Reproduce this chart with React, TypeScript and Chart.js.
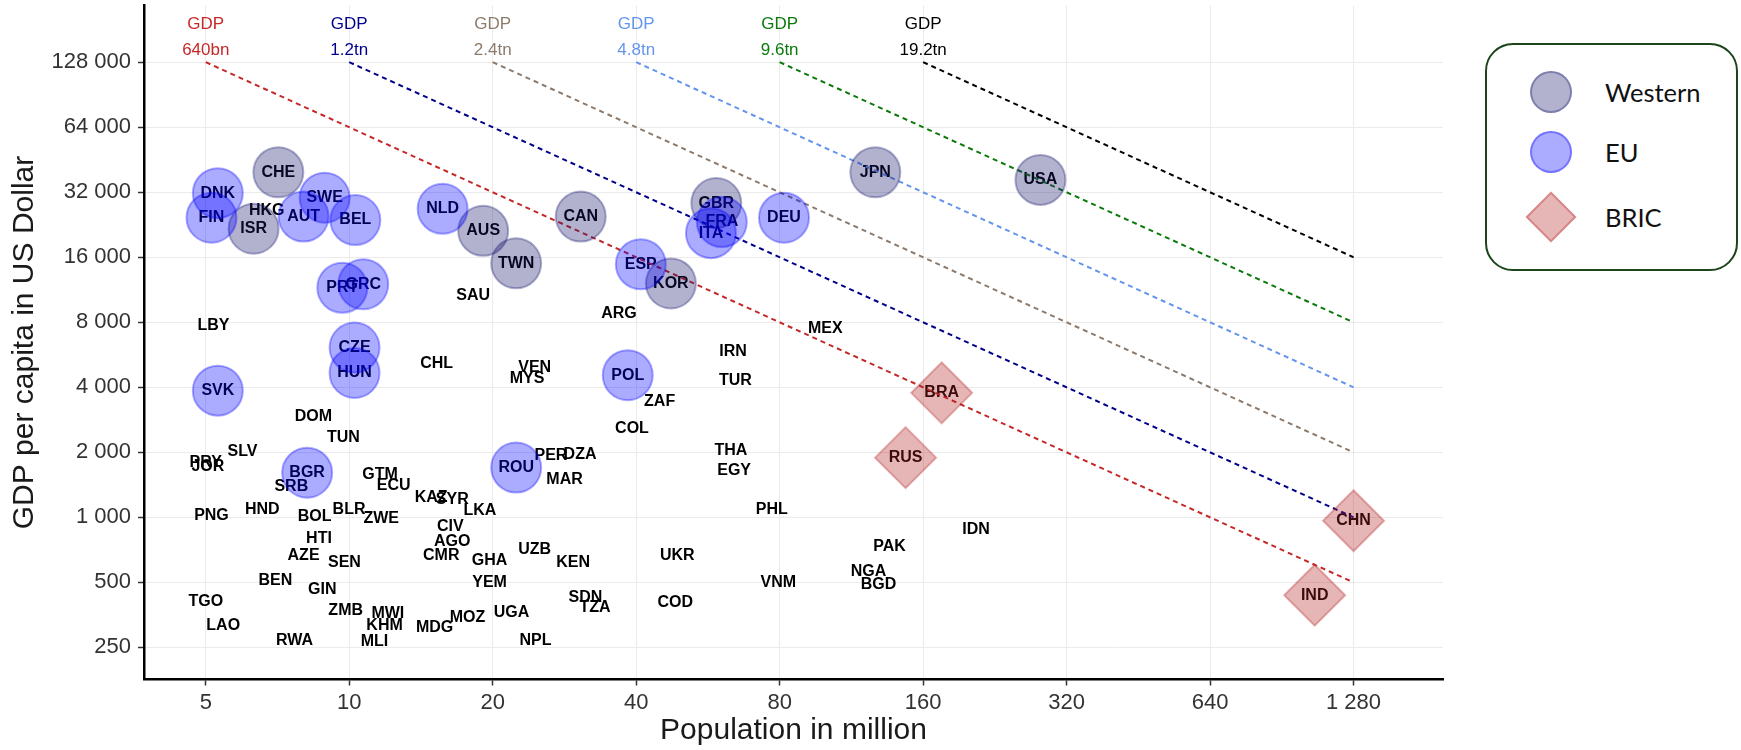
import React, { useEffect, useRef } from 'react';
import { Chart, registerables } from 'chart.js';
Chart.register(...registerables);

// ---------- axis ticks ----------
const xTicks = [5, 10, 20, 40, 80, 160, 320, 640, 1280];
const yTicks = [250, 500, 1000, 2000, 4000, 8000, 16000, 32000, 64000, 128000];

// ---------- GDP iso-lines ----------
const gdpLineStartPop = [5, 10, 20, 40, 80, 160];
const gdpLineTopGdp = 128000;
const gdpLineEndPop = 1280;
const gdpLineEndGdp = [500, 1000, 2000, 4000, 8000, 16000];
const gdpLineLabels = ['640bn', '1.2tn', '2.4tn', '4.8tn', '9.6tn', '19.2tn'];
const gdpLineColors = ['#c62828', '#00008b', '#8c7b6c', '#6495ed', '#0b7a0b', '#000000'];

// ---------- Western ----------
const westernCodes = ['CHE', 'ISR', 'AUS', 'TWN', 'CAN', 'KOR', 'GBR', 'JPN', 'USA'];
const westernPop = [7.1, 6.3, 19.1, 22.4, 30.6, 47.3, 58.9, 127, 282];
const westernGdp = [39600, 21700, 21200, 15000, 24700, 12100, 28500, 39600, 36500];

// ---------- EU ----------
const euCodes = ['DNK', 'FIN', 'SWE', 'AUT', 'BEL', 'PRT', 'GRC', 'CZE', 'HUN', 'SVK', 'NLD', 'ESP', 'POL', 'ROU', 'BGR', 'FRA', 'ITA', 'DEU'];
const euPop = [5.3, 5.14, 8.88, 8.02, 10.3, 9.67, 10.7, 10.26, 10.26, 5.3, 15.7, 40.9, 38.4, 22.4, 8.16, 60.5, 57.4, 81.7];
const euGdp = [31700, 24400, 30200, 24700, 23800, 11560, 12000, 6110, 4660, 3860, 26830, 14850, 4550, 1700, 1610, 23290, 20690, 24400];

// ---------- BRIC ----------
const bricCodes = ['BRA', 'RUS', 'CHN', 'IND'];
const bricPop = [175, 147, 1280, 1061];
const bricGdp = [3770, 1890, 964, 436];

// ---------- other countries (text only) ----------
const otherCodes = [
  'LBY', 'HKG', 'SAU', 'ARG', 'MEX', 'IRN', 'CHL', 'VEN', 'MYS', 'TUR',
  'ZAF', 'DOM', 'COL', 'TUN', 'SLV', 'PRY', 'JOR', 'THA', 'EGY', 'PER',
  'DZA', 'MAR', 'GTM', 'ECU', 'SRB', 'KAZ', 'SYR', 'LKA', 'PHL', 'IDN',
  'PNG', 'HND', 'BOL', 'BLR', 'ZWE', 'CIV', 'AGO', 'HTI', 'AZE', 'SEN',
  'CMR', 'GHA', 'UZB', 'KEN', 'UKR', 'PAK', 'NGA', 'BGD', 'VNM', 'BEN',
  'GIN', 'YEM', 'TGO', 'SDN', 'TZA', 'COD', 'ZMB', 'MWI', 'UGA', 'MOZ',
  'KHM', 'MDG', 'LAO', 'RWA', 'MLI', 'NPL',
];
const otherPop = [
  5.19, 6.71, 18.2, 36.8, 99.7, 63.9, 15.25, 24.5, 23.6, 64.6,
  44.8, 8.41, 39.2, 9.72, 5.97, 5.0, 5.05, 63.2, 64.2, 26.5,
  30.5, 28.3, 11.6, 12.4, 7.56, 14.85, 16.45, 18.8, 77, 206.7,
  5.14, 6.57, 8.46, 9.99, 11.67, 16.3, 16.45, 8.64, 8.02, 9.77,
  15.6, 19.7, 24.5, 29.5, 48.8, 136, 122.9, 129, 79.5, 7.0,
  8.78, 19.7, 5.0, 31.3, 32.8, 48.3, 9.83, 12.05, 21.9, 17.7,
  11.86, 15.1, 5.44, 7.68, 11.3, 24.6,
];
const otherGdp = [
  7730, 26200, 10660, 8730, 7470, 5830, 5170, 4930, 4380, 4280,
  3430, 2940, 2570, 2340, 2010, 1800, 1720, 2030, 1640, 1940,
  1960, 1490, 1570, 1410, 1390, 1240, 1210, 1070, 1085, 878,
  1024, 1085, 1010, 1085, 987, 909, 770, 797, 668, 616,
  668, 630, 709, 616, 668, 735, 560, 486, 497, 509,
  463, 497, 407, 426, 383, 401, 370, 357, 361, 344,
  317, 310, 317, 268, 265, 268,
];

// ---------- styles ----------
const FONT = '"Liberation Sans", Arial, Helvetica, sans-serif';
const WESTERN_COLOR = 'rgba(20,20,110,0.33)';
const EU_COLOR = 'rgba(0,0,255,0.33)';
const BRIC_COLOR = 'rgba(178,34,34,0.33)';

const fmt = (v: number) => String(v).replace(/\B(?=(\d{3})+(?!\d))/g, ' ');

const toPts = (pop: number[], gdp: number[]) => pop.map((p, i) => ({ x: p, y: gdp[i] }));

const labelPlugin = {
  id: 'countryLabels',
  beforeDatasetsDraw(chart: any) {
    const { ctx, scales } = chart;
    const xs = scales.x;
    const ys = scales.y;
    ctx.save();
    ctx.textAlign = 'center';
    ctx.textBaseline = 'middle';
    ctx.fillStyle = '#000';
    ctx.font = `bold 16px ${FONT}`;
    const groups: [string[], number[], number[]][] = [
      [otherCodes, otherPop, otherGdp],
      [westernCodes, westernPop, westernGdp],
      [euCodes, euPop, euGdp],
      [bricCodes, bricPop, bricGdp],
    ];
    groups.forEach(([codes, pop, gdp]) => {
      codes.forEach((c, i) => {
        ctx.fillText(c, xs.getPixelForValue(pop[i]), ys.getPixelForValue(gdp[i]));
      });
    });
    ctx.font = `17px ${FONT}`;
    gdpLineStartPop.forEach((s, i) => {
      const px = xs.getPixelForValue(s);
      const py = ys.getPixelForValue(gdpLineTopGdp);
      ctx.fillStyle = gdpLineColors[i];
      ctx.fillText('GDP', px, py - 38);
      ctx.fillText(gdpLineLabels[i], px, py - 12);
    });
    ctx.restore();
  },
};

export default function App() {
  const ref = useRef<HTMLCanvasElement | null>(null);

  useEffect(() => {
    if (!ref.current) return;
    const lineSets = gdpLineStartPop.map((s, i) => ({
      label: 'GDP ' + gdpLineLabels[i],
      data: [
        { x: s, y: gdpLineTopGdp },
        { x: gdpLineEndPop, y: gdpLineEndGdp[i] },
      ],
      showLine: true,
      borderColor: gdpLineColors[i],
      borderWidth: 2,
      borderDash: [5, 4],
      pointRadius: 0,
      fill: false,
      order: 10,
    }));
    const chart = new Chart(ref.current, {
      type: 'scatter',
      data: {
        datasets: [
          ...lineSets,
          {
            label: 'Western',
            data: toPts(westernPop, westernGdp),
            pointStyle: 'circle',
            pointRadius: 25,
            backgroundColor: WESTERN_COLOR,
            borderColor: WESTERN_COLOR,
            borderWidth: 2,
            order: 2,
          },
          {
            label: 'EU',
            data: toPts(euPop, euGdp),
            pointStyle: 'circle',
            pointRadius: 25,
            backgroundColor: EU_COLOR,
            borderColor: EU_COLOR,
            borderWidth: 2,
            order: 1,
          },
          {
            label: 'BRIC',
            data: toPts(bricPop, bricGdp),
            pointStyle: 'rectRot',
            pointRadius: 30.5,
            backgroundColor: BRIC_COLOR,
            borderColor: BRIC_COLOR,
            borderWidth: 2,
            order: 0,
          },
        ] as any,
      },
      options: {
        animation: false,
        responsive: false,
        events: [],
        layout: { autoPadding: false, padding: { left: 0, right: 298, top: 5.5, bottom: 0 } },
        plugins: { legend: { display: false }, tooltip: { enabled: false } },
        scales: {
          x: {
            type: 'logarithmic',
            min: 3.71,
            max: 1972,
            afterBuildTicks: (s: any) => {
              s.ticks = xTicks.map((v) => ({ value: v }));
            },
            afterFit: (s: any) => {
              s.height = 70.5;
              s.paddingLeft = 0;
              s.paddingRight = 0;
            },
            ticks: {
              callback: (v: any) => fmt(Number(v)),
              font: { size: 22, family: FONT },
              color: '#333',
              padding: 4,
              autoSkip: false,
              maxRotation: 0,
            },
            grid: { color: '#ebebeb', lineWidth: 1, tickColor: '#333', tickLength: 6, tickWidth: 1.5 },
            border: { display: true, color: '#000', width: 2.5 },
            title: {
              display: true,
              text: 'Population in million',
              font: { size: 30, family: FONT },
              color: '#1a1a1a',
              padding: { top: 0, bottom: 1 },
            },
          },
          y: {
            type: 'logarithmic',
            min: 177.5,
            max: 234300,
            afterBuildTicks: (s: any) => {
              s.ticks = yTicks.map((v) => ({ value: v }));
            },
            afterFit: (s: any) => {
              s.width = 144;
              s.paddingTop = 0;
              s.paddingBottom = 0;
            },
            ticks: {
              callback: (v: any) => fmt(Number(v)),
              font: { size: 22, family: FONT },
              color: '#333',
              padding: 7,
              autoSkip: false,
            },
            grid: { color: '#ebebeb', lineWidth: 1, tickColor: '#333', tickLength: 6, tickWidth: 1.5 },
            border: { display: true, color: '#000', width: 2.5 },
            title: {
              display: true,
              text: 'GDP per capita in US Dollar',
              font: { size: 30, family: FONT },
              color: '#1a1a1a',
              padding: { top: 7, bottom: 0 },
            },
          },
        },
      } as any,
      plugins: [labelPlugin],
    });
    return () => chart.destroy();
  }, []);

  const legendRows = [
    { label: 'Western', color: WESTERN_COLOR, shape: 'circle' },
    { label: 'EU', color: EU_COLOR, shape: 'circle' },
    { label: 'BRIC', color: BRIC_COLOR, shape: 'diamond' },
  ];
  const rowY = [47, 107, 172];

  return (
    <div style={{ position: 'absolute', left: 0, top: 0, width: 1741, height: 750, background: '#fff', overflow: 'hidden' }}>
      <canvas ref={ref} width={1741} height={750} style={{ position: 'absolute', left: 0, top: 0, width: 1741, height: 750 }} />
      <div
        style={{
          position: 'absolute',
          left: 1485,
          top: 43,
          width: 253,
          height: 228,
          border: '2px solid #1c451c',
          borderRadius: 28,
          boxSizing: 'border-box',
          background: '#fff',
        }}
      >
        {legendRows.map((r, i) =>
          <React.Fragment key={r.label}>
            {r.shape === 'circle' ? (
              <div
                style={{
                  position: 'absolute',
                  left: 64 - 21,
                  top: rowY[i] - 21,
                  width: 42,
                  height: 42,
                  borderRadius: '50%',
                  background: r.color,
                  border: `2px solid ${r.color}`,
                  boxSizing: 'border-box',
                }}
              />
            ) : (
              <div
                style={{
                  position: 'absolute',
                  left: 64 - 18,
                  top: rowY[i] - 18,
                  width: 36,
                  height: 36,
                  transform: 'rotate(45deg)',
                  background: r.color,
                  border: `2px solid ${r.color}`,
                  boxSizing: 'border-box',
                }}
              />
            )}
            <div
              style={{
                position: 'absolute',
                left: 118,
                top: rowY[i] - 16,
                height: 32,
                lineHeight: '32px',
                fontFamily: 'Lato, "Open Sans", sans-serif',
                fontSize: 25.5,
                color: '#111',
              }}
            >
              {r.label}
            </div>
          </React.Fragment>
        )}
      </div>
    </div>
  );
}
